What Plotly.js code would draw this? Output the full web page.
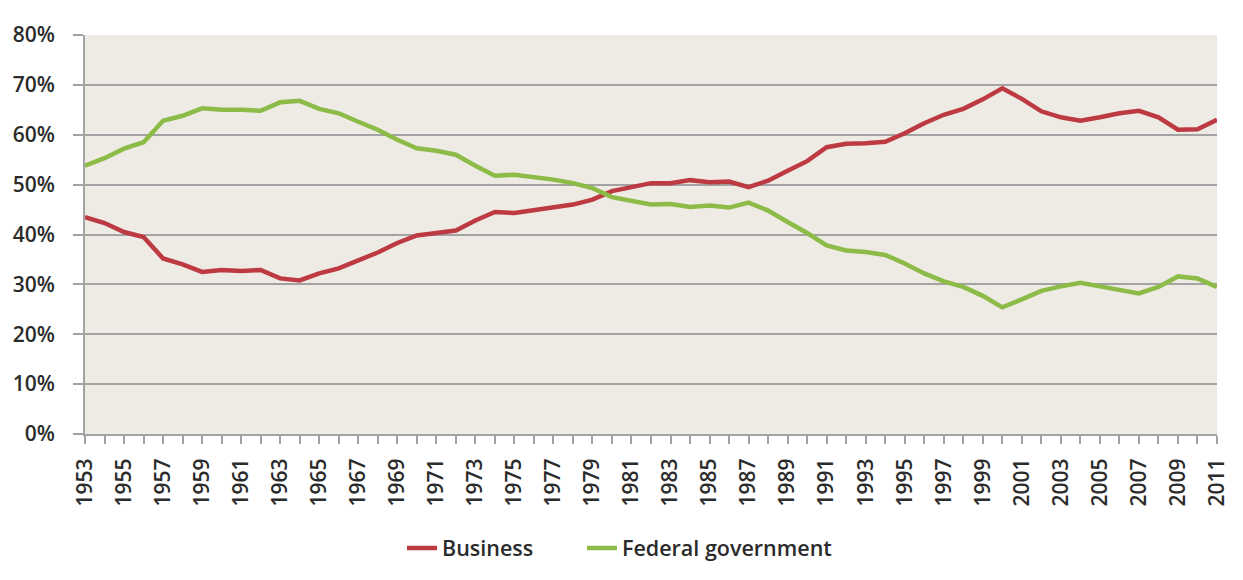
<!DOCTYPE html>
<html>
<head>
<meta charset="utf-8">
<script src="https://cdn.plot.ly/plotly-3.0.1.min.js"></script>
<style>html,body{margin:0;padding:0;background:#fff}#chart{width:1243px;height:580px}</style>
</head>
<body>
<div id="chart"></div>
<script>
const years = [1953,1954,1955,1956,1957,1958,1959,1960,1961,1962,1963,1964,1965,1966,1967,1968,1969,1970,1971,1972,1973,1974,1975,1976,1977,1978,1979,1980,1981,1982,1983,1984,1985,1986,1987,1988,1989,1990,1991,1992,1993,1994,1995,1996,1997,1998,1999,2000,2001,2002,2003,2004,2005,2006,2007,2008,2009,2010,2011];
const business = [43.5,42.3,40.5,39.5,35.2,34.0,32.5,32.9,32.7,32.9,31.2,30.8,32.2,33.2,34.8,36.4,38.3,39.8,40.3,40.8,42.8,44.5,44.3,44.8,45.3,46.0,47.0,48.7,49.5,50.3,50.3,50.9,50.5,50.6,49.5,50.8,52.8,54.7,57.5,58.2,58.3,58.6,60.3,62.3,64.0,65.2,67.1,69.3,67.2,64.7,63.5,62.8,63.5,64.3,64.8,63.5,61.0,61.1,63.0];
const federal = [53.8,55.3,57.2,58.5,62.8,63.8,65.3,65.0,65.0,64.8,66.5,66.8,65.2,64.3,62.6,61.0,59.0,57.3,56.8,56.0,53.8,51.8,52.0,51.6,51.0,50.3,49.3,47.5,46.8,46.0,46.1,45.5,45.8,45.4,46.4,44.8,42.5,40.3,37.8,36.8,36.5,35.9,34.2,32.2,30.6,29.5,27.7,25.4,27.0,28.7,29.6,30.3,29.6,28.9,28.2,29.5,31.6,31.2,29.5];
const xTickVals = [1953,1955,1957,1959,1961,1963,1965,1967,1969,1971,1973,1975,1977,1979,1981,1983,1985,1987,1989,1991,1993,1995,1997,1999,2001,2003,2005,2007,2009,2011];
const yTickVals = [0,10,20,30,40,50,60,70,80];
const yTickText = ['0%','10%','20%','30%','40%','50%','60%','70%','80%'];

const traces = [
  {x: years, y: business, name: 'Business', type: 'scatter', mode: 'lines',
   line: {color: '#BE3A43', width: 4.5}, legend: 'legend'},
  {x: years, y: federal, name: 'Federal government', type: 'scatter', mode: 'lines',
   line: {color: '#8DBB48', width: 4.5}, legend: 'legend2'}
];

const txt = '#2b2b2b';
const legendBase = {orientation: 'h', xanchor: 'left', y: -0.286, yanchor: 'middle',
                    font: {size: 21.5, color: txt, weight: 600}, bgcolor: 'rgba(0,0,0,0)'};
const layout = {
  width: 1243, height: 580,
  margin: {l: 85, r: 26, t: 35, b: 146},
  paper_bgcolor: '#ffffff',
  plot_bgcolor: '#EEEBE4',
  font: {family: '"Open Sans", sans-serif', color: txt, size: 21, weight: 600},
  showlegend: true,
  legend: Object.assign({}, legendBase, {x: 0.280}),
  legend2: Object.assign({}, legendBase, {x: 0.439}),
  xaxis: {
    range: [1953, 2011], tickmode: 'array', tickvals: xTickVals, ticktext: xTickVals.map(String),
    tickangle: -90, tickfont: {size: 21, color: txt, weight: 600},
    showgrid: false, zeroline: false,
    showline: true, linecolor: '#A3A3A3', linewidth: 2,
    ticks: 'outside', ticklen: 8, tickcolor: '#A3A3A3', tickwidth: 2, ticklabelstandoff: 6,
    minor: {tickmode: 'linear', dtick: 1, tick0: 1953, ticks: 'outside', ticklen: 8, tickcolor: '#A3A3A3', tickwidth: 2, showgrid: false}
  },
  yaxis: {
    range: [0, 80], tickmode: 'array', tickvals: yTickVals, ticktext: yTickText,
    tickfont: {size: 21, color: txt, weight: 600},
    showgrid: true, gridcolor: '#A3A3A3', gridwidth: 2, zeroline: false,
    showline: true, linecolor: '#A3A3A3', linewidth: 2,
    ticks: 'outside', ticklen: 10, tickcolor: '#A3A3A3', tickwidth: 2, ticklabelstandoff: 14
  }
};

Plotly.newPlot('chart', traces, layout, {displayModeBar: false, staticPlot: true});
</script>
</body>
</html>
